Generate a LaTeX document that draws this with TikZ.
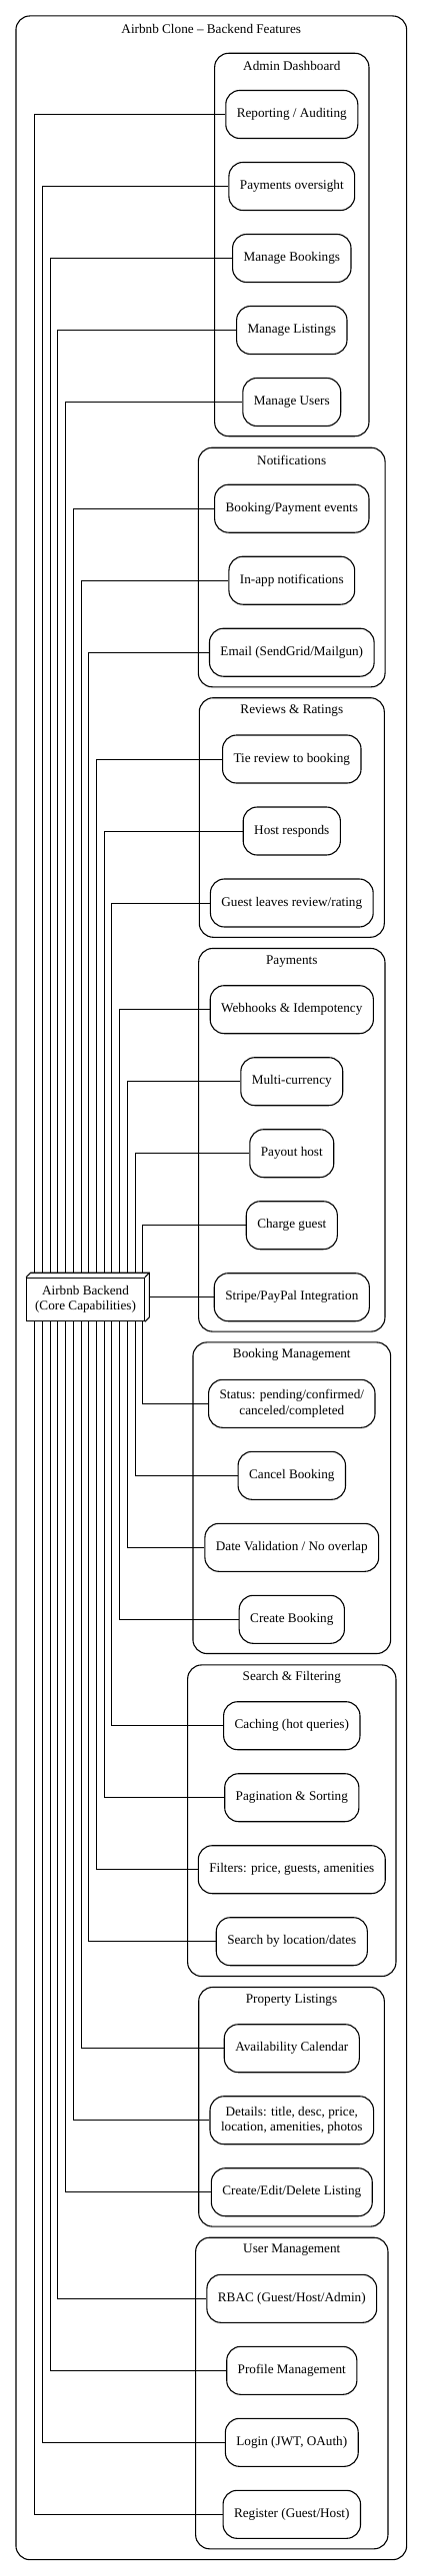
\documentclass[tikz,border=0pt]{standalone}
\usepackage{fontspec}
\setmainfont{Liberation Serif}
\usetikzlibrary{positioning}

\begin{document}
\begin{tikzpicture}[x=1pt, y=-1pt, node distance=72pt,
  every node/.style={font=\fontsize{13.2}{15.5}\selectfont},
  feat/.style={draw, rounded corners=14pt, line width=1.1pt, minimum height=48pt, inner xsep=11pt, align=center},
  group/.style={draw, rounded corners=14pt, line width=1.1pt},
  core/.style={draw, line width=1.1pt, minimum width=117.6pt, minimum height=43.4pt, inner sep=0pt, align=center},
  link/.style={line width=1pt}]
  \useasboundingbox (0,0) rectangle (423,2579);

  % outer frame
  \node[group, minimum width=390.7pt, minimum height=2546.7pt] (frame) at (211.3,1289.3) {};
  \node (title) at (211.3,29) {Airbnb Clone – Backend Features};

  % clusters
  \node[group, minimum width=154.3pt, minimum height=383.4pt] (admin) at (291.8,245) {};
  \node (admint) at ([yshift=-13.4pt]admin.north) {Admin Dashboard};
  \node[group, minimum width=186.7pt, minimum height=239.6pt] (notif) at (291.7,568) {};
  \node (notift) at ([yshift=-13.4pt]notif.north) {Notifications};
  \node[group, minimum width=185pt, minimum height=239.6pt] (review) at (291.8,818.5) {};
  \node (reviewt) at ([yshift=-13.4pt]review.north) {Reviews \& Ratings};
  \node[group, minimum width=186.3pt, minimum height=383.6pt] (pay) at (291.8,1141.3) {};
  \node (payt) at ([yshift=-13.4pt]pay.north) {Payments};
  \node[group, minimum width=197.7pt, minimum height=311.6pt] (booking) at (291.8,1499.7) {};
  \node (bookingt) at ([yshift=-13.4pt]booking.north) {Booking Management};
  \node[group, minimum width=208.3pt, minimum height=311.6pt] (searchf) at (291.8,1822.7) {};
  \node (searchft) at ([yshift=-13.4pt]searchf.north) {Search \& Filtering};
  \node[group, minimum width=185.6pt, minimum height=239.6pt] (prop) at (291.5,2109.3) {};
  \node (propt) at ([yshift=-13.4pt]prop.north) {Property Listings};
  \node[group, minimum width=192.3pt, minimum height=311.6pt] (users) at (291.8,2396) {};
  \node (userst) at ([yshift=-13.4pt]users.north) {User Management};

  % Admin Dashboard
  \node[feat] (rep) at (291.8,114.5) {Reporting / Auditing};
  \node[feat] (payov) [below of=rep] {Payments oversight};
  \node[feat] (mbook) [below of=payov] {Manage Bookings};
  \node[feat] (mlist) [below of=mbook] {Manage Listings};
  \node[feat] (musers) [below of=mlist] {Manage Users};

  % Notifications
  \node[feat] (bpev) at (291.8,509.2) {Booking/Payment events};
  \node[feat] (inapp) [below of=bpev] {In-app notifications};
  \node[feat] (email) [below of=inapp] {Email (SendGrid/Mailgun)};

  % Reviews & Ratings
  \node[feat] (tie) at (291.8,760) {Tie review to booking};
  \node[feat] (hostr) [below of=tie] {Host responds};
  \node[feat] (guestr) [below of=hostr] {Guest leaves review/rating};

  % Payments
  \node[feat] (webh) at (291.8,1010.7) {Webhooks \& Idempotency};
  \node[feat] (multi) [below of=webh] {Multi-currency};
  \node[feat] (payout) [below of=multi] {Payout host};
  \node[feat] (charge) [below of=payout] {Charge guest};
  \node[feat] (stripe) [below of=charge] {Stripe/PayPal Integration};

  % Booking Management
  \node[feat] (status) at (291.8,1405.3) {Status: pending/confirmed/\\canceled/completed};
  \node[feat] (cancel) [below of=status] {Cancel Booking};
  \node[feat] (datev) [below of=cancel] {Date Validation / No overlap};
  \node[feat] (create) [below of=datev] {Create Booking};

  % Search & Filtering
  \node[feat] (cache) at (291.8,1727.7) {Caching (hot queries)};
  \node[feat] (pagin) [below of=cache] {Pagination \& Sorting};
  \node[feat] (filt) [below of=pagin] {Filters: price, guests, amenities};
  \node[feat] (search) [below of=filt] {Search by location/dates};

  % Property Listings
  \node[feat] (avail) at (291.8,2050.7) {Availability Calendar};
  \node[feat] (details) [below of=avail] {Details: title, desc, price,\\location, amenities, photos};
  \node[feat] (crud) [below of=details] {Create/Edit/Delete Listing};

  % User Management
  \node[feat] (rbac) at (291.8,2301.3) {RBAC (Guest/Host/Admin)};
  \node[feat] (profile) [below of=rbac] {Profile Management};
  \node[feat] (login) [below of=profile] {Login (JWT, OAuth)};
  \node[feat] (register) [below of=login] {Register (Guest/Host)};

  % backend box
  \node[core] (core) at (85.5,1301) {Airbnb Backend\\(Core Capabilities)};
  \draw[line width=1.1pt] (core.north west) -- ++(4.5,-4.5) -- ([shift={(4.5pt,4.5pt)}]core.north east) -- ([shift={(4.5pt,4.5pt)}]core.south east) -- (core.south east);
  \draw[line width=1.1pt] (core.north east) -- ++(4.5,-4.5);
  \coordinate (coretop) at ([yshift=4.5pt]core.north);
  \coordinate (coreside) at ([xshift=4.5pt, yshift=2.25pt]core.east);

  % links going up
  \draw[link] (34.7,0 |- coretop) |- (rep.west);
  \draw[link] (42.4,0 |- coretop) |- (payov.west);
  \draw[link] (50.1,0 |- coretop) |- (mbook.west);
  \draw[link] (57.9,0 |- coretop) |- (mlist.west);
  \draw[link] (65.6,0 |- coretop) |- (musers.west);
  \draw[link] (73.3,0 |- coretop) |- (bpev.west);
  \draw[link] (81.0,0 |- coretop) |- (inapp.west);
  \draw[link] (88.7,0 |- coretop) |- (email.west);
  \draw[link] (96.5,0 |- coretop) |- (tie.west);
  \draw[link] (104.2,0 |- coretop) |- (hostr.west);
  \draw[link] (111.9,0 |- coretop) |- (guestr.west);
  \draw[link] (119.6,0 |- coretop) |- (webh.west);
  \draw[link] (127.3,0 |- coretop) |- (multi.west);
  \draw[link] (135.1,0 |- coretop) |- (payout.west);
  \draw[link] (142.8,0 |- coretop) |- (charge.west);
  \draw[link] (stripe.west -| coreside) -- (stripe.west);

  % links going down
  \draw[link] (142.8,0 |- core.south) |- (status.west);
  \draw[link] (135.1,0 |- core.south) |- (cancel.west);
  \draw[link] (127.3,0 |- core.south) |- (datev.west);
  \draw[link] (119.6,0 |- core.south) |- (create.west);
  \draw[link] (111.9,0 |- core.south) |- (cache.west);
  \draw[link] (104.2,0 |- core.south) |- (pagin.west);
  \draw[link] (96.5,0 |- core.south) |- (filt.west);
  \draw[link] (88.7,0 |- core.south) |- (search.west);
  \draw[link] (81.0,0 |- core.south) |- (avail.west);
  \draw[link] (73.3,0 |- core.south) |- (details.west);
  \draw[link] (65.6,0 |- core.south) |- (crud.west);
  \draw[link] (57.9,0 |- core.south) |- (rbac.west);
  \draw[link] (50.1,0 |- core.south) |- (profile.west);
  \draw[link] (42.4,0 |- core.south) |- (login.west);
  \draw[link] (34.7,0 |- core.south) |- (register.west);
\end{tikzpicture}
\end{document}
